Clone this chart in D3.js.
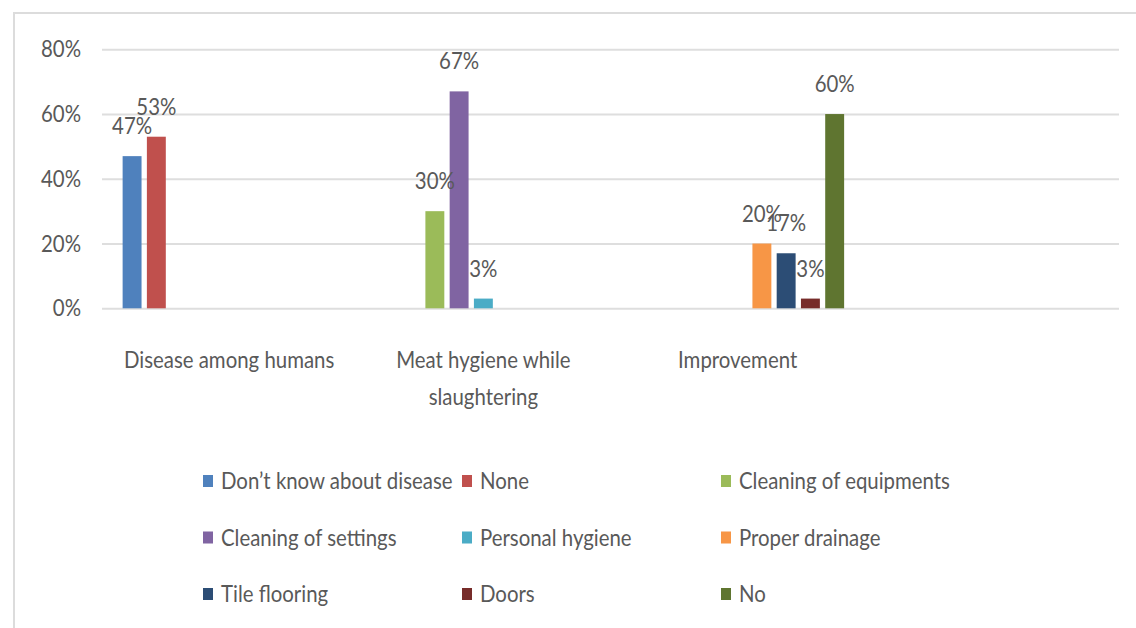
<!DOCTYPE html>
<html>
<head>
<meta charset="utf-8">
<script src="https://cdn.jsdelivr.net/npm/d3@7"></script>
<style>
  html, body { margin: 0; padding: 0; background: #fff; }
  svg { display: block; }
  text { font-family: Lato, "Open Sans", sans-serif; fill: #595959; }
</style>
</head>
<body>
<svg id="chart" width="1136" height="628"></svg>
<script>
// Categories on the x axis (the last slot is an empty category)
const categories = ["Disease among humans", "Meat hygiene while slaughtering", "Improvement", ""];

// Series names, one per legend entry
const seriesNames = [
  "Don\u2019t know about disease", "None", "Cleaning of equipments",
  "Cleaning of settings", "Personal hygiene", "Proper drainage",
  "Tile flooring", "Doors", "No"
];

// Percent values of each series per category (null = no bar)
const seriesValues = [
  [47, null, null],
  [53, null, null],
  [null, 30, null],
  [null, 67, null],
  [null, 3, null],
  [null, null, 20],
  [null, null, 17],
  [null, null, 3],
  [null, null, 60]
];

const seriesColors = [
  "#4F81BD", "#C0504D", "#9BBB59", "#8064A2", "#4BACC6",
  "#F79646", "#2C4D75", "#772C2A", "#5F7530"
];

const yTicks = [0, 20, 40, 60, 80];

// ---- layout ----
const svg = d3.select("#chart");
const FS = 24;          // font size
const SX = 0.85;        // horizontal squeeze of the narrow face
const plotLeft = 102, plotRight = 1119, plotTop = 49.3, plotBottom = 308.3;

// outer frame
svg.append("line").attr("x1", 14).attr("x2", 1136).attr("y1", 13).attr("y2", 13)
  .attr("stroke", "#dcdcdc").attr("stroke-width", 2);
svg.append("line").attr("x1", 14).attr("x2", 14).attr("y1", 12).attr("y2", 628)
  .attr("stroke", "#dcdcdc").attr("stroke-width", 2);

const x0 = d3.scaleBand().domain(d3.range(categories.length))
  .range([plotLeft, plotRight]).paddingInner(0).paddingOuter(0);
const x1 = d3.scaleBand().domain(d3.range(seriesNames.length))
  .range([0, x0.bandwidth()]).paddingInner(0.22).paddingOuter(0.85);
const y = d3.scaleLinear().domain([0, 80]).range([plotBottom, plotTop]);

// text helper: squeezed text placed at (x, y)
function label(parent, x, yy, str, anchor) {
  const g = parent.append("g").attr("transform", `translate(${x},${yy})`);
  g.append("text").attr("transform", `scale(${SX},1)`)
    .attr("text-anchor", anchor || "start")
    .style("font-size", FS + "px")
    .text(str);
  return g;
}

// y axis with gridlines
const yAxis = d3.axisLeft(y).tickValues(yTicks)
  .tickFormat(d => d + "%")
  .tickSizeInner(-(plotRight - plotLeft)).tickSizeOuter(0).tickPadding(21);
const gy = svg.append("g").attr("transform", `translate(${plotLeft},0)`).call(yAxis);
gy.select(".domain").remove();
gy.selectAll(".tick line").attr("stroke", "#dedede").attr("stroke-width", 2);
gy.selectAll(".tick text")
  .style("font-size", FS + "px").style("font-family", "Lato, sans-serif")
  .attr("fill", "#595959")
  .each(function () {
    const x = +this.getAttribute("x");
    this.setAttribute("x", x / SX);
    this.setAttribute("transform", `scale(${SX},1)`);
  });

// bars
const bars = [];
seriesValues.forEach((vals, s) => {
  vals.forEach((v, c) => {
    if (v != null) bars.push({ s, c, v });
  });
});

svg.append("g").selectAll("rect").data(bars).join("rect")
  .attr("x", d => x0(d.c) + x1(d.s))
  .attr("width", x1.bandwidth())
  .attr("y", d => y(d.v))
  .attr("height", d => y(0) - y(d.v))
  .attr("fill", d => seriesColors[d.s]);

// data labels
const gl = svg.append("g");
bars.forEach(d => {
  label(gl, x0(d.c) + x1(d.s) + x1.bandwidth() / 2, y(d.v) - 22, d.v + "%", "middle");
});

// category labels with wrapping
const gc = svg.append("g");
const maxW = x0.bandwidth() - 14;
categories.forEach((cat, i) => {
  if (!cat) return;
  const cx = x0(i) + x0.bandwidth() / 2;
  const words = cat.split(" ");
  const lines = [];
  let cur = [];
  const probe = svg.append("text").style("font-size", FS + "px");
  words.forEach(w => {
    const test = cur.concat([w]).join(" ");
    probe.text(test);
    if (probe.node().getComputedTextLength() * SX > maxW && cur.length) {
      lines.push(cur.join(" "));
      cur = [w];
    } else cur.push(w);
  });
  lines.push(cur.join(" "));
  probe.remove();
  lines.forEach((ln, k) => label(gc, cx, 368 + k * 37, ln, "middle"));
});

// legend
const gLeg = svg.append("g");
seriesNames.forEach((name, i) => {
  const col = i % 3, row = Math.floor(i / 3);
  const lx = 203 + col * 259, ly = 481 + row * 56.5;
  gLeg.append("rect").attr("x", lx).attr("y", ly - 6).attr("width", 10).attr("height", 12)
    .attr("fill", seriesColors[i]);
  label(gLeg, lx + 18, ly + 8, name, "start");
});
</script>
</body>
</html>
